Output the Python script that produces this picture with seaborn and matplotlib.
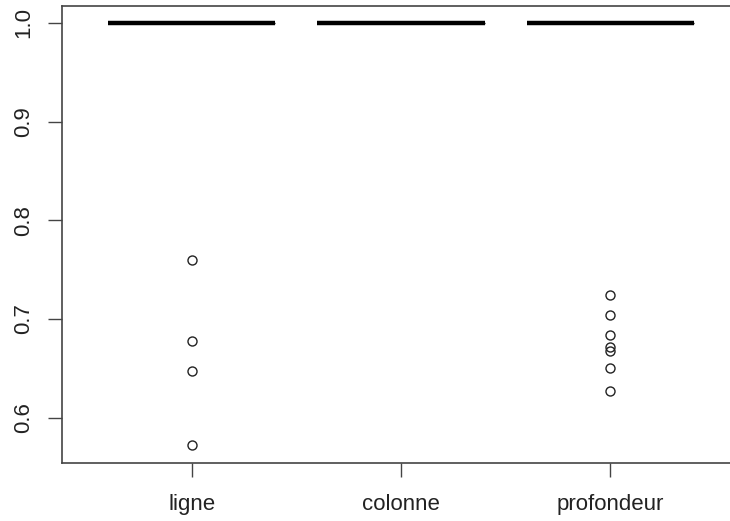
import matplotlib
matplotlib.use("Agg")
import matplotlib.pyplot as plt
import seaborn as sns
import pandas as pd

categories = ["ligne", "colonne", "profondeur"]
ligne_vals = [1.0] * 20 + [0.760, 0.678, 0.647, 0.572]
colonne_vals = [1.0] * 24
profondeur_vals = [1.0] * 24 + [0.724, 0.704, 0.684, 0.672, 0.668, 0.650, 0.627]
y_ticks = [0.6, 0.7, 0.8, 0.9, 1.0]

df = pd.DataFrame({
    "cat": ["ligne"] * len(ligne_vals) + ["colonne"] * len(colonne_vals) + ["profondeur"] * len(profondeur_vals),
    "val": ligne_vals + colonne_vals + profondeur_vals,
})

sns.set_style("white")
plt.rcParams["font.family"] = ["Liberation Sans", "DejaVu Sans"]

W, H = 730, 521
fig = plt.figure(figsize=(W / 100, H / 100), dpi=100)
ax = fig.add_axes([62 / W, 1 - 463 / H, (740 - 62) / W, (463 - 6) / H])

sns.boxplot(
    data=df, x="cat", y="val", order=categories, ax=ax,
    width=0.8, whis=1.5, color="white", linecolor="black", linewidth=1,
    medianprops=dict(color="black", linewidth=3.2, solid_capstyle="butt"),
    flierprops=dict(marker="o", markersize=6.5, markerfacecolor="none",
                    markeredgecolor="#222222", markeredgewidth=1),
    boxprops=dict(facecolor="white", edgecolor="black"),
)

ax.set_xlim(-0.62, 2.62)
ax.set_ylim(0.554, 1.0172)
ax.set_yticks(y_ticks)
ax.set_yticklabels([f"{t:.1f}" for t in y_ticks], rotation=90, va="center")
ax.set_xlabel("")
ax.set_ylabel("")

for s in ax.spines.values():
    s.set_visible(True)
    s.set_color("#444444")
    s.set_linewidth(1.2)

ax.tick_params(axis="both", which="both", direction="out", length=10, width=1,
               color="#444444", labelsize=16, labelcolor="#222222",
               bottom=True, left=True, top=False, right=False)
ax.tick_params(axis="x", pad=12.5)
ax.tick_params(axis="y", pad=10)

fig.savefig("out.png", dpi=100, facecolor="white")
